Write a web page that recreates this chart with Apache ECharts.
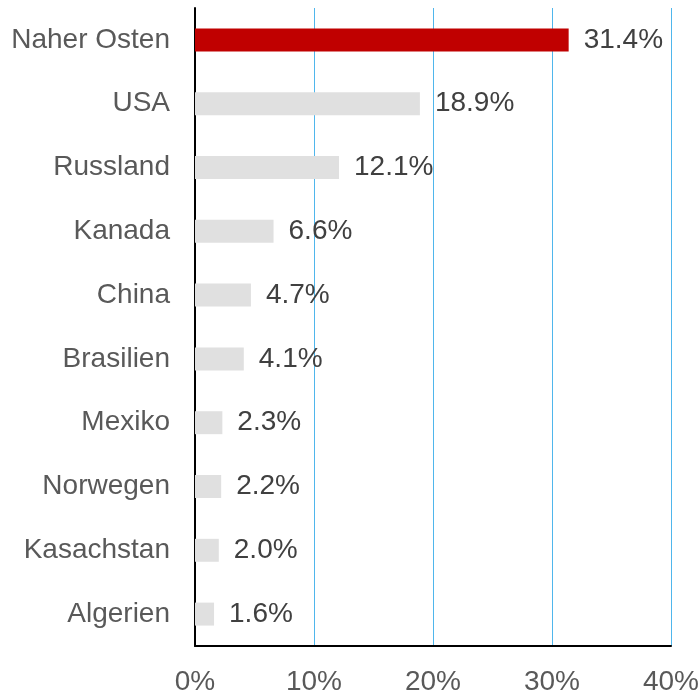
<!DOCTYPE html>
<html>
<head>
<meta charset="utf-8">
<script src="https://cdn.jsdelivr.net/npm/echarts@6/dist/echarts.min.js"></script>
<style>
html, body { margin: 0; padding: 0; background: #fff; }
#chart { width: 700px; height: 693px; }
</style>
</head>
<body>
<div id="chart"></div>
<script>
// Länder und Anteile (in %)
var laender = ['Naher Osten', 'USA', 'Russland', 'Kanada', 'China', 'Brasilien', 'Mexiko', 'Norwegen', 'Kasachstan', 'Algerien'];
var anteile = [31.4, 18.9, 12.1, 6.6, 4.7, 4.1, 2.3, 2.2, 2.0, 1.6];
var xTicks = [0, 10, 20, 30, 40];

var myChart = echarts.init(document.getElementById('chart'));

let option = {
    backgroundColor: '#fff',
    animation: false,
    grid: {
        left: 195,
        right: 29,
        top: 8,
        bottom: 47,
        outerBoundsMode: 'none' // Beschriftungen dürfen bis an den Rand gehen
    },
    xAxis: {
        type: 'value',
        min: xTicks[0],
        max: xTicks[xTicks.length - 1],
        interval: 10,
        axisLine: { show: true, lineStyle: { color: '#000', width: 2 } },
        axisTick: { show: false },
        axisLabel: {
            formatter: '{value}%',
            color: '#595959',
            fontSize: 28,
            fontFamily: 'Liberation Sans, Arial',
            margin: 22
        },
        splitLine: { show: true, lineStyle: { color: '#4fb6ec', width: 1 } }
    },
    yAxis: {
        type: 'category',
        inverse: true,
        data: laender,
        axisLine: { show: true, lineStyle: { color: '#000', width: 2 } },
        axisTick: { show: false },
        axisLabel: {
            color: '#595959',
            fontSize: 28,
            fontFamily: 'Liberation Sans, Arial',
            margin: 25
        }
    },
    series: [{
        type: 'bar',
        barWidth: '36%',
        data: anteile.map(function (v, i) {
            return {
                value: v,
                itemStyle: { color: i === 0 ? '#c00000' : '#e0e0e0' }
            };
        }),
        label: {
            show: true,
            position: 'right',
            distance: 15,
            formatter: function (p) { return p.value.toFixed(1) + '%'; },
            color: '#404040',
            fontSize: 28,
            fontFamily: 'Liberation Sans, Arial'
        }
    }]
};

myChart.setOption(option);
</script>
</body>
</html>
